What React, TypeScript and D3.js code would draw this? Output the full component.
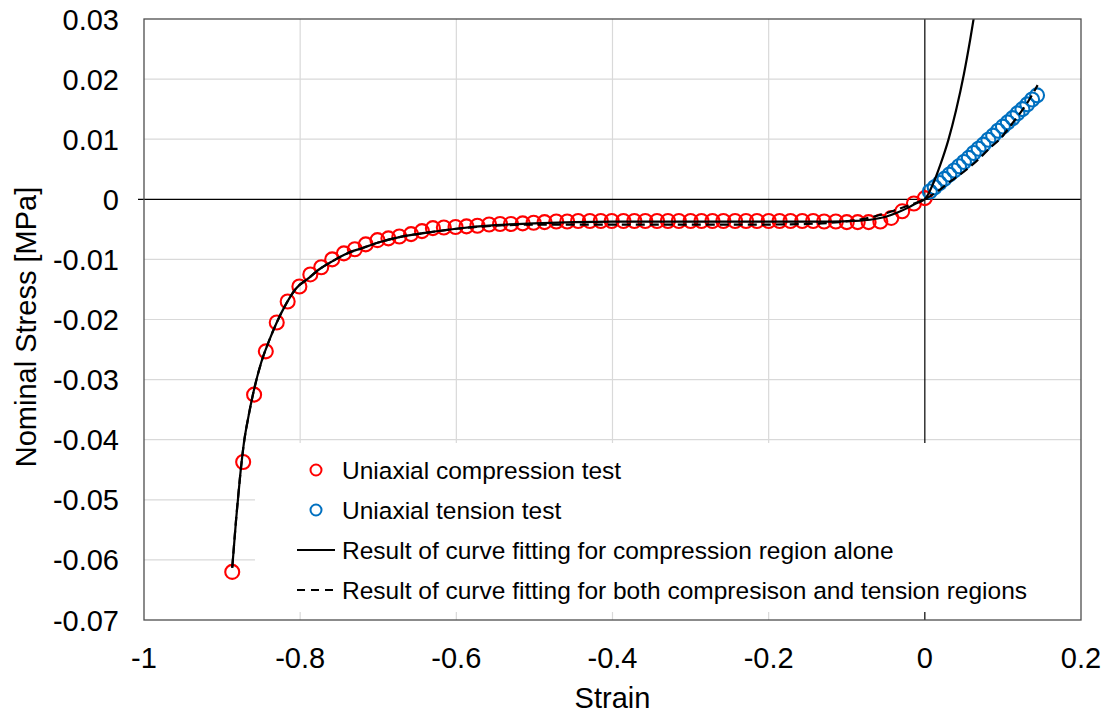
import React from "react";
import * as d3 from "d3";

// Chart canvas and plot frame (pixels)
const W = 1110;
const H = 718;
const PLOT = { left: 144, top: 19, right: 1081, bottom: 620 };

// Uniaxial compression test (strain, nominal stress in MPa)
const compressionStrain = [
  -0.887, -0.873, -0.859, -0.844, -0.83, -0.816, -0.801, -0.787, -0.773, -0.759,
  -0.744, -0.73, -0.716, -0.701, -0.687, -0.673, -0.658, -0.644, -0.63, -0.616,
  -0.601, -0.587, -0.573, -0.558, -0.544, -0.53, -0.515, -0.501, -0.487, -0.472,
  -0.458, -0.444, -0.429, -0.415, -0.401, -0.386, -0.372, -0.358, -0.343, -0.329,
  -0.315, -0.3, -0.286, -0.272, -0.258, -0.243, -0.229, -0.215, -0.2, -0.186,
  -0.172, -0.157, -0.143, -0.129, -0.114, -0.1, -0.086, -0.072, -0.057, -0.043,
  -0.029, -0.014, 0.0,
];
const compressionStress = [
  -0.062, -0.0437, -0.0325, -0.0253, -0.0205, -0.017, -0.0145, -0.0125, -0.0113, -0.01,
  -0.009, -0.0083, -0.0075, -0.0068, -0.0065, -0.0062, -0.0058, -0.0053, -0.0048, -0.0047,
  -0.0046, -0.0045, -0.0044, -0.0042, -0.0041, -0.0041, -0.004, -0.0039, -0.0038, -0.0037,
  -0.0037, -0.0036, -0.0036, -0.0036, -0.0036, -0.0036, -0.0036, -0.0036, -0.0036, -0.0036,
  -0.0036, -0.0036, -0.0036, -0.0036, -0.0036, -0.0036, -0.0036, -0.0036, -0.0036, -0.0036,
  -0.0036, -0.0036, -0.0036, -0.0037, -0.0037, -0.0038, -0.0038, -0.0038, -0.0037, -0.0031,
  -0.002, -0.0007, 0.0002,
];

// Uniaxial tension test
const tensionStrain = [
  0.0064, 0.0126, 0.0189, 0.0251, 0.0314, 0.0376, 0.0438, 0.0501, 0.0563, 0.0626,
  0.0688, 0.075, 0.0813, 0.0875, 0.0938, 0.1, 0.1062, 0.1125, 0.1187, 0.125,
  0.1312, 0.1374, 0.1437,
];
const tensionStress = [
  0.0013, 0.002, 0.0027, 0.0034, 0.0041, 0.0048, 0.0055, 0.0062, 0.0069, 0.0077,
  0.0084, 0.0091, 0.0099, 0.0106, 0.0114, 0.0121, 0.0128, 0.0135, 0.0143, 0.015,
  0.0158, 0.0166, 0.0173,
];

// Fitted curve: compression region alone
const fitCompressionOnly: [number, number][] = [
  [-0.887, -0.0613], [-0.882, -0.0532], [-0.877, -0.0462], [-0.872, -0.0405],
  [-0.866, -0.036], [-0.86, -0.0322], [-0.85, -0.0272], [-0.84, -0.0236],
  [-0.83, -0.0205], [-0.818, -0.0174], [-0.805, -0.0148], [-0.79, -0.0132],
  [-0.775, -0.0116], [-0.76, -0.0104], [-0.74, -0.009], [-0.72, -0.0081],
  [-0.7, -0.0072], [-0.67, -0.0062], [-0.64, -0.0056], [-0.6, -0.0049],
  [-0.55, -0.0043], [-0.5, -0.004], [-0.45, -0.0038], [-0.4, -0.0037],
  [-0.3, -0.0037], [-0.2, -0.0037], [-0.12, -0.0037], [-0.09, -0.0036],
  [-0.07, -0.0034], [-0.05, -0.0029], [-0.035, -0.0022], [-0.02, -0.0013],
  [-0.01, -0.0006], [0.0, 0.0], [0.01, 0.0024], [0.02, 0.0058],
  [0.03, 0.0098], [0.04, 0.0148], [0.05, 0.0208], [0.058, 0.0265], [0.065, 0.032],
];

// Fitted curve: compression and tension regions together
const fitBothRegions: [number, number][] = [
  [-0.887, -0.0613], [-0.882, -0.0532], [-0.877, -0.0462], [-0.872, -0.0405],
  [-0.866, -0.036], [-0.86, -0.0322], [-0.85, -0.0272], [-0.84, -0.0236],
  [-0.83, -0.0205], [-0.818, -0.0174], [-0.805, -0.0148], [-0.79, -0.0132],
  [-0.775, -0.0116], [-0.76, -0.0104], [-0.74, -0.009], [-0.72, -0.0081],
  [-0.7, -0.0072], [-0.67, -0.0062], [-0.64, -0.0056], [-0.6, -0.0049],
  [-0.55, -0.0044], [-0.5, -0.0042], [-0.4, -0.0042], [-0.3, -0.0042],
  [-0.2, -0.0042], [-0.15, -0.0041], [-0.11, -0.0038], [-0.08, -0.0033],
  [-0.06, -0.0027], [-0.04, -0.0019], [-0.02, -0.001], [0.0, 0.0],
  [0.015, 0.0012], [0.03, 0.0027], [0.054, 0.005], [0.07, 0.0068],
  [0.083, 0.0085], [0.096, 0.01], [0.113, 0.0128], [0.13, 0.0158], [0.1445, 0.019],
];

const xTicks = [-1, -0.8, -0.6, -0.4, -0.2, 0, 0.2];
const xTickLabels = ["-1", "-0.8", "-0.6", "-0.4", "-0.2", "0", "0.2"];
const yTicks = [0.03, 0.02, 0.01, 0, -0.01, -0.02, -0.03, -0.04, -0.05, -0.06, -0.07];
const yTickLabels = ["0.03", "0.02", "0.01", "0", "-0.01", "-0.02", "-0.03", "-0.04", "-0.05", "-0.06", "-0.07"];

const legendLabels = [
  "Uniaxial compression test",
  "Uniaxial tension test",
  "Result of curve fitting for compression region alone",
  "Result of curve fitting for both compresison and tension regions",
];

const FONT = "'Liberation Sans', Arial, Helvetica, sans-serif";
const RED = "#FF0000";
const BLUE = "#0070C0";
const GRID = "#D9D9D9";

export default function App() {
  const x = d3.scaleLinear().domain([-1, 0.2]).range([PLOT.left, PLOT.right]);
  const y = d3.scaleLinear().domain([-0.07, 0.03]).range([PLOT.bottom, PLOT.top]);

  const line = d3
    .line<[number, number]>()
    .x((d) => x(d[0]))
    .y((d) => y(d[1]))
    .curve(d3.curveMonotoneX);

  const compression = compressionStrain.map((s, i) => [s, compressionStress[i]] as [number, number]);
  const tension = tensionStrain.map((s, i) => [s, tensionStress[i]] as [number, number]);

  const x0 = x(0);
  const y0 = y(0);

  const legendX = 255;
  const legendTop = 443;
  const legendBottom = 612;
  const legendRows = [470, 510, 550, 590];

  return (
    <svg
      width={W}
      height={H}
      viewBox={`0 0 ${W} ${H}`}
      style={{ position: "absolute", left: 0, top: 0, background: "#fff" }}
      fontFamily={FONT}
    >
      <defs>
        <clipPath id="plot-clip">
          <rect x={PLOT.left} y={PLOT.top} width={PLOT.right - PLOT.left} height={PLOT.bottom - PLOT.top} />
        </clipPath>
      </defs>
      <rect x={0} y={0} width={W} height={H} fill="#fff" />

      {/* gridlines */}
      {xTicks
        .filter((t) => t !== 0 && t > -1 && t < 0.2)
        .map((t) => (
          <line key={`gx${t}`} x1={x(t)} x2={x(t)} y1={PLOT.top} y2={PLOT.bottom} stroke={GRID} strokeWidth={1.2} />
        ))}
      {yTicks
        .filter((t) => t !== 0 && t < 0.03 && t > -0.07)
        .map((t) => (
          <line key={`gy${t}`} x1={PLOT.left} x2={PLOT.right} y1={y(t)} y2={y(t)} stroke={GRID} strokeWidth={1.2} />
        ))}

      {/* axes through the origin */}
      <line x1={PLOT.left - 6} x2={PLOT.right} y1={y0} y2={y0} stroke="#000" strokeWidth={1.2} />
      <line x1={x0} x2={x0} y1={PLOT.top} y2={PLOT.bottom} stroke="#000" strokeWidth={1.2} />

      {/* test data */}
      <g fill="none" strokeWidth={2.1}>
        {compression.map((d, i) => (
          <circle key={`c${i}`} cx={x(d[0])} cy={y(d[1])} r={7} stroke={RED} />
        ))}
        {tension.map((d, i) => (
          <circle key={`t${i}`} cx={x(d[0])} cy={y(d[1])} r={7} stroke={BLUE} />
        ))}
      </g>

      {/* fitted curves */}
      <g clipPath="url(#plot-clip)" fill="none" stroke="#000" strokeWidth={2.2}>
        <path d={line(fitBothRegions) ?? ""} strokeDasharray="9,5" />
        <path d={line(fitCompressionOnly) ?? ""} />
      </g>

      {/* legend */}
      <rect x={legendX} y={legendTop} width={PLOT.right - legendX} height={legendBottom - legendTop} fill="#fff" />
      <circle cx={316} cy={legendRows[0]} r={5.5} fill="none" stroke={RED} strokeWidth={2} />
      <circle cx={316} cy={legendRows[1]} r={5.5} fill="none" stroke={BLUE} strokeWidth={2} />
      <line x1={297} x2={335} y1={legendRows[2]} y2={legendRows[2]} stroke="#000" strokeWidth={2} />
      <line x1={297} x2={336} y1={legendRows[3]} y2={legendRows[3]} stroke="#000" strokeWidth={2} strokeDasharray="8,6" />
      <g fontSize={24.5} fill="#000">
        {legendLabels.map((lbl, i) => (
          <text key={lbl} x={342} y={legendRows[i] + 9}>
            {lbl}
          </text>
        ))}
      </g>

      {/* plot frame */}
      <rect
        x={PLOT.left}
        y={PLOT.top}
        width={PLOT.right - PLOT.left}
        height={PLOT.bottom - PLOT.top}
        fill="none"
        stroke="#4d4d4d"
        strokeWidth={1.3}
      />

      {/* tick labels */}
      <g fontSize={29} fill="#000">
        {xTicks.map((t, i) => (
          <text key={`xl${t}`} x={x(t)} y={668} textAnchor="middle">
            {xTickLabels[i]}
          </text>
        ))}
        {yTicks.map((t, i) => (
          <text key={`yl${t}`} x={119} y={y(t) + 10.5} textAnchor="end">
            {yTickLabels[i]}
          </text>
        ))}
      </g>

      {/* axis titles */}
      <text x={(PLOT.left + PLOT.right) / 2} y={708} textAnchor="middle" fontSize={29}>
        Strain
      </text>
      <text transform="translate(36,327) rotate(-90)" textAnchor="middle" fontSize={29}>
        Nominal Stress [MPa]
      </text>
    </svg>
  );
}
